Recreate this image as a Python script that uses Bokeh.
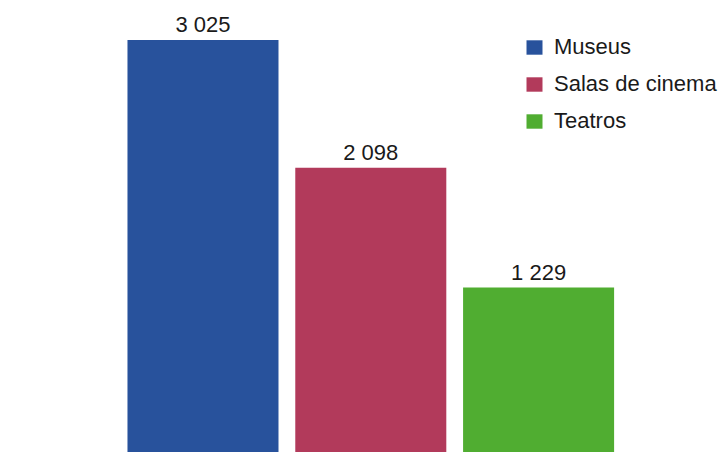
from bokeh.plotting import figure
from bokeh.models import ColumnDataSource, Range1d
from bokeh.core.properties import value
from bokeh.embed import file_html
from bokeh.resources import INLINE

categories = ["Museus", "Salas de cinema", "Teatros"]
values = [3025, 2098, 1229]
colors = ["#28529C", "#B23A5B", "#50AD31"]

labels = [f"{v:,}".replace(",", " ") for v in values]
xs = list(range(len(categories)))

source = ColumnDataSource(dict(x=xs, top=values, cat=categories, color=colors, label=labels))

p = figure(width=721, height=452, output_backend="svg", toolbar_location=None,
           x_range=Range1d(-1.159, 3.090), y_range=Range1d(33, 3253),
           min_border=0, min_border_left=8, min_border_right=0,
           min_border_top=8, min_border_bottom=0)

p.vbar(x="x", top="top", bottom=0, width=0.9, color="color", line_color=None,
       source=source, legend_field="cat")

p.text(x="x", y="top", text="label", source=source, text_align="center",
       text_baseline="alphabetic", y_offset=-15, text_font=value("Liberation Sans"),
       text_font_size="22px", text_color="#1a1a1a")

p.xaxis.visible = False
p.yaxis.visible = False
p.xgrid.visible = False
p.ygrid.visible = False
p.outline_line_color = None

lg = p.legend[0]
lg.location = (516, 318)
lg.background_fill_alpha = 0
lg.border_line_color = None
lg.padding = 0
lg.margin = 0
lg.glyph_width = 20
lg.glyph_height = 18
lg.label_height = 18
lg.spacing = 11
lg.label_standoff = 10
lg.label_text_font = "Liberation Sans"
lg.label_text_font_size = "22px"
lg.label_text_color = "#1a1a1a"

open("out.html", "w").write(file_html(p, INLINE))
